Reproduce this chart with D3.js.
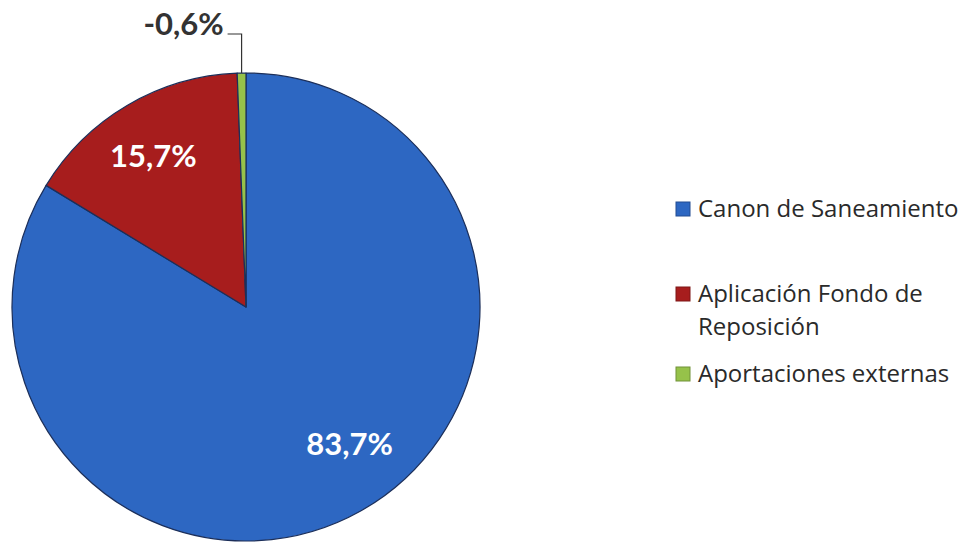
<!DOCTYPE html>
<html><head><meta charset="utf-8">
<script src="https://cdn.jsdelivr.net/npm/d3@7"></script>
<style>body{margin:0;background:#fff}svg{display:block}</style>
</head><body>
<svg id="c" width="973" height="545"></svg>
<script>
const categories = ["Canon de Saneamiento", "Aplicación Fondo de Reposición", "Aportaciones externas"];
const values = [83.7, 15.7, -0.6];
const labels = ["83,7%", "15,7%", "-0,6%"];
const colors = ["#2d67c2", "#a71d1d", "#96c24a"];

const svg = d3.select("#c");
const cx = 246, cy = 307, r = 234;
const g = svg.append("g").attr("transform", `translate(${cx},${cy})`);

const pie = d3.pie().value(d => Math.abs(d)).sort(null);
const arcs = pie(values);
const arc = d3.arc().innerRadius(0).outerRadius(r);

g.selectAll("path").data(arcs).join("path")
  .attr("d", arc)
  .attr("fill", (d, i) => colors[i])
  .attr("stroke", "#1c2f5a")
  .attr("stroke-width", 1.2)
  .attr("stroke-linejoin", "round");

const font = "Lato, 'Open Sans', sans-serif";
// inside labels: radius fraction and angular nudge (degrees) relative to slice middle
const inside = [
  {i: 0, rr: 0.73, da: -8},
  {i: 1, rr: 0.76, da: -1}
];
inside.forEach(o => {
  const a = arcs[o.i];
  const ang = (a.startAngle + a.endAngle) / 2 + o.da * Math.PI / 180;
  const x = Math.sin(ang) * r * o.rr, y = -Math.cos(ang) * r * o.rr;
  g.append("text")
    .attr("x", x).attr("y", y)
    .attr("text-anchor", "middle").attr("dominant-baseline", "central")
    .attr("font-family", font).attr("font-weight", "bold").attr("font-size", 31)
    .attr("fill", "#ffffff")
    .text(labels[o.i]);
});
// outside label for small slice with leader line
{
  const a = arcs[2];
  const mid = (a.startAngle + a.endAngle) / 2;
  const px = Math.sin(mid) * r, py = -Math.cos(mid) * r;
  const ly = -273;
  g.append("polyline")
    .attr("points", `${px},${py} ${px},${ly} ${px - 14},${ly}`)
    .attr("fill", "none").attr("stroke", "#333").attr("stroke-width", 1.2);
  g.append("text")
    .attr("x", px - 18).attr("y", ly - 11)
    .attr("text-anchor", "end").attr("dominant-baseline", "central")
    .attr("font-family", font).attr("font-weight", "bold").attr("font-size", 31)
    .attr("fill", "#333")
    .text(labels[2]);
}

// legend
const legendLines = [["Canon de Saneamiento"], ["Aplicación Fondo de", "Reposición"], ["Aportaciones externas"]];
const legendY = [217, 302, 382];
legendLines.forEach((lines, i) => {
  const base = legendY[i];
  svg.append("rect")
    .attr("x", 676).attr("y", base - 15).attr("width", 14).attr("height", 14)
    .attr("fill", colors[i]).attr("stroke", d3.color(colors[i]).darker(0.8)).attr("stroke-width", 1);
  lines.forEach((t, j) => {
    svg.append("text")
      .attr("x", 698).attr("y", base + j * 33)
      .attr("font-family", "'Open Sans', Lato, sans-serif").attr("font-size", 24)
      .attr("fill", "#2a2a2a")
      .text(t);
  });
});
</script>
</body></html>
